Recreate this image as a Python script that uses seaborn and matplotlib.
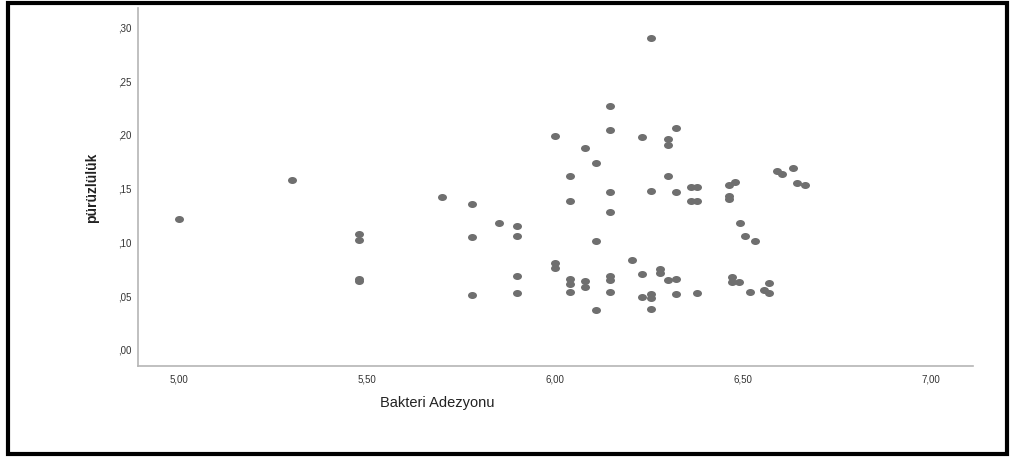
import numpy as np
import pandas as pd
import matplotlib
matplotlib.use("Agg")
import matplotlib.pyplot as plt
import seaborn as sns
from matplotlib.patches import Rectangle
from matplotlib.path import Path

# values
bakteri_adezyonu = [
    5.00, 5.30, 5.48, 5.48, 5.48, 5.48, 5.70, 5.78, 5.78, 5.78,
    5.85, 5.90, 5.90, 5.90, 5.90, 6.00, 6.00, 6.00, 6.04, 6.04,
    6.04, 6.04, 6.04, 6.08, 6.08, 6.08, 6.11, 6.11, 6.11, 6.147,
    6.147, 6.147, 6.147, 6.147, 6.147, 6.147, 6.205, 6.231, 6.231, 6.231,
    6.255, 6.255, 6.255, 6.255, 6.255, 6.279, 6.279, 6.301, 6.301, 6.301,
    6.301, 6.323, 6.323, 6.323, 6.323, 6.362, 6.362, 6.378, 6.378, 6.378,
    6.463, 6.463, 6.463, 6.470, 6.470, 6.478, 6.490, 6.492, 6.506, 6.519,
    6.533, 6.556, 6.569, 6.569, 6.591, 6.604, 6.634, 6.643, 6.664,
]
puruzluluk = [
    0.122, 0.158, 0.108, 0.102, 0.066, 0.064, 0.142, 0.136, 0.105, 0.051,
    0.118, 0.115, 0.106, 0.069, 0.053, 0.199, 0.081, 0.076, 0.162, 0.139,
    0.066, 0.061, 0.054, 0.188, 0.064, 0.059, 0.174, 0.101, 0.037, 0.227,
    0.205, 0.147, 0.128, 0.069, 0.065, 0.054, 0.084, 0.198, 0.071, 0.049,
    0.290, 0.148, 0.052, 0.048, 0.038, 0.075, 0.072, 0.196, 0.191, 0.162,
    0.065, 0.206, 0.147, 0.066, 0.052, 0.152, 0.139, 0.152, 0.139, 0.053,
    0.153, 0.143, 0.140, 0.068, 0.063, 0.156, 0.063, 0.118, 0.106, 0.054,
    0.101, 0.056, 0.062, 0.053, 0.166, 0.164, 0.169, 0.155, 0.153,
]
x_ticks = [5.0, 5.5, 6.0, 6.5, 7.0]
x_labels = ["5,00", "5,50", "6,00", "6,50", "7,00"]
y_ticks = [0.0, 0.05, 0.10, 0.15, 0.20, 0.25, 0.30]
y_labels = [",00", ",05", ",10", ",15", ",20", ",25", ",30"]

df = pd.DataFrame({"Bakteri Adezyonu": bakteri_adezyonu, "pürüzlülük": puruzluluk})

sns.set_style("white")
plt.rcParams["font.family"] = ["Liberation Sans", "DejaVu Sans"]

# SPSS draws the dots a little wider than tall
circle = Path.unit_circle()
ellipse = Path(circle.vertices * np.array([1.0, 0.78]), circle.codes)

fig = plt.figure(figsize=(10.12, 4.57), dpi=100)
ax = fig.add_axes([0.1364, 0.1991, 0.8251, 0.7834])

sns.scatterplot(data=df, x="Bakteri Adezyonu", y="pürüzlülük", ax=ax,
                color="#6f6f6f", s=42, marker=ellipse, linewidth=0, legend=False)

ax.set_xlim(4.891, 7.112)
ax.set_ylim(-0.0149, 0.318)
ax.set_xticks(x_ticks)
ax.set_xticklabels(x_labels)
ax.set_yticks(y_ticks)
ax.set_yticklabels(y_labels)
ax.tick_params(axis="both", length=0, labelsize=7, colors="#333333")
ax.tick_params(axis="x", pad=6)
ax.tick_params(axis="y", pad=5)

for side in ["top", "right"]:
    ax.spines[side].set_visible(False)
for side in ["left", "bottom"]:
    ax.spines[side].set_color("#b5b5b5")
    ax.spines[side].set_linewidth(1.2)

ax.set_xlabel("Bakteri Adezyonu", fontsize=10.5, color="#222222")
ax.xaxis.set_label_coords(0.358, -0.085)
ax.set_ylabel("pürüzlülük", fontsize=10, fontweight="bold", color="#222222")
ax.yaxis.set_label_coords(-0.047, 0.497)

# black frame around the whole picture
fig.patches.append(Rectangle((0.0075, 0.007), 0.988, 0.987, transform=fig.transFigure,
                             fill=False, edgecolor="black", linewidth=3))

fig.savefig("out.png", dpi=100)
